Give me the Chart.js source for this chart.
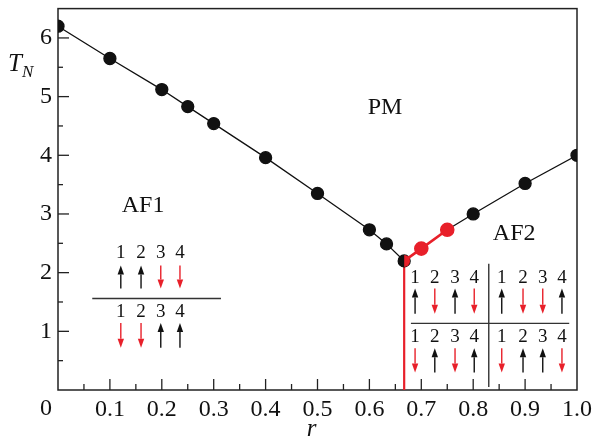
<!DOCTYPE html>
<html>
<head>
<meta charset="utf-8">
<script src="https://cdn.jsdelivr.net/npm/chart.js@4"></script>
<style>
  html, body { margin: 0; padding: 0; background: #fff; }
  canvas { display: block; }
</style>
</head>
<body>
<canvas id="phaseChart" width="593" height="441"></canvas>
<script>
// T_N(r) phase diagram
const rAF1 = [0, 0.1, 0.2, 0.25, 0.3, 0.4, 0.5, 0.6, 0.633, 0.667];
const tAF1 = [6.2, 5.65, 5.12, 4.83, 4.54, 3.96, 3.35, 2.73, 2.49, 2.2];
const rMid = [0.667, 0.7, 0.75];
const tMid = [2.2, 2.41, 2.73];
const rAF2 = [0.75, 0.8, 0.9, 1.0];
const tAF2 = [2.73, 3.0, 3.52, 4.0];
const rBoundary = [0.667, 0.667];
const tBoundary = [0, 2.2];

// spin configurations (1 = up, -1 = down)
const af1Top = [1, 1, -1, -1];
const af1Bottom = [-1, -1, 1, 1];
const af2TopLeft = [1, -1, 1, -1];
const af2TopRight = [1, -1, -1, 1];
const af2BottomLeft = [-1, 1, -1, 1];
const af2BottomRight = [-1, 1, 1, -1];

const RED = '#e8202a';
const BLACK = '#111';
const SERIF = '"Liberation Serif"';

const toPts = (xs, ys) => xs.map((x, i) => ({ x: x, y: ys[i] }));

// half black / half red marker for the triple point
function halfDot(r) {
  const c = document.createElement('canvas');
  c.width = c.height = 2 * r;
  const g = c.getContext('2d');
  g.fillStyle = BLACK;
  g.beginPath(); g.arc(r, r, r, Math.PI / 2, Math.PI * 1.5); g.fill();
  g.fillStyle = RED;
  g.beginPath(); g.arc(r, r, r, -Math.PI / 2, Math.PI / 2); g.fill();
  return c;
}
const tripleDot = halfDot(6);

function arrow(ctx, x, y1, y2, dir, color) {
  // y1 top, y2 bottom (pixels)
  const tip = dir > 0 ? y1 : y2;
  const tail = dir > 0 ? y2 : y1;
  const hl = 9, hw = 3.2;
  const base = tip + (dir > 0 ? hl : -hl);
  ctx.strokeStyle = color;
  ctx.fillStyle = color;
  ctx.lineWidth = 1.4;
  ctx.beginPath(); ctx.moveTo(x, tail); ctx.lineTo(x, base); ctx.stroke();
  ctx.beginPath();
  ctx.moveTo(x, tip);
  ctx.lineTo(x - hw, base);
  ctx.lineTo(x + hw, base);
  ctx.closePath();
  ctx.fill();
}

function spinRow(ctx, px, py, cols, yNum, yA, yB, spins) {
  ctx.font = '19px ' + SERIF;
  ctx.textAlign = 'center';
  ctx.textBaseline = 'middle';
  cols.forEach((c, i) => {
    ctx.fillStyle = BLACK;
    ctx.fillText(String(i + 1), px(c), py(yNum));
    arrow(ctx, px(c), py(yA), py(yB), spins[i], spins[i] > 0 ? BLACK : RED);
  });
}

const decorPlugin = {
  id: 'decor',
  beforeDatasetsDraw(chart) {
    const { ctx, chartArea: a, scales: { x, y } } = chart;
    ctx.save();
    ctx.strokeStyle = '#222';
    ctx.lineWidth = 1.5;
    ctx.strokeRect(a.left, a.top, a.right - a.left, a.bottom - a.top);
    // inward ticks
    ctx.lineWidth = 1.3;
    for (let i = 1; i < 20; i++) {
      const v = i * 0.05, X = x.getPixelForValue(v);
      const len = i % 2 === 0 ? 11 : 6;
      ctx.beginPath(); ctx.moveTo(X, a.bottom); ctx.lineTo(X, a.bottom - len); ctx.stroke();
    }
    for (let i = 1; i < 13; i++) {
      const v = i * 0.5, Y = y.getPixelForValue(v);
      const len = i % 2 === 0 ? 11 : 5;
      ctx.beginPath(); ctx.moveTo(a.left, Y); ctx.lineTo(a.left + len, Y); ctx.stroke();
    }
    ctx.restore();
  },
  afterDraw(chart) {
    const { ctx, chartArea: a, scales: { x, y } } = chart;
    const px = v => x.getPixelForValue(v);
    const py = v => y.getPixelForValue(v);
    ctx.save();
    ctx.fillStyle = BLACK;
    ctx.textBaseline = 'middle';
    ctx.textAlign = 'center';
    ctx.font = '24px ' + SERIF;
    ctx.fillText('0', a.left - 12, a.bottom + 19);
    ctx.fillText('PM', px(0.63), py(4.81));
    ctx.fillText('AF1', px(0.164), py(3.14));
    ctx.fillText('AF2', px(0.879), py(2.66));

    // axis titles
    ctx.font = 'italic 25px ' + SERIF;
    ctx.textAlign = 'left';
    ctx.fillText('T', 8, 64);
    ctx.font = 'italic 17px ' + SERIF;
    ctx.fillText('N', 22, 73);
    ctx.font = 'italic 25px ' + SERIF;
    ctx.textAlign = 'center';
    ctx.fillText('r', (a.left + a.right) / 2 - 6, 429);

    // AF1 configurations
    const c1 = [0.121, 0.160, 0.198, 0.235];
    spinRow(ctx, px, py, c1, 2.335, 2.12, 1.73, af1Top);
    spinRow(ctx, px, py, c1, 1.33, 1.14, 0.72, af1Bottom);
    ctx.strokeStyle = '#333';
    ctx.lineWidth = 1.4;
    ctx.beginPath(); ctx.moveTo(px(0.066), py(1.56)); ctx.lineTo(px(0.314), py(1.56)); ctx.stroke();

    // AF2 configurations
    const cl = [0.688, 0.726, 0.765, 0.802];
    const cr = [0.855, 0.896, 0.934, 0.971];
    spinRow(ctx, px, py, cl, 1.90, 1.73, 1.30, af2TopLeft);
    spinRow(ctx, px, py, cr, 1.90, 1.73, 1.30, af2TopRight);
    spinRow(ctx, px, py, cl, 0.90, 0.71, 0.30, af2BottomLeft);
    spinRow(ctx, px, py, cr, 0.90, 0.71, 0.30, af2BottomRight);
    ctx.strokeStyle = '#333';
    ctx.lineWidth = 1.4;
    ctx.beginPath(); ctx.moveTo(px(0.680), py(1.136)); ctx.lineTo(px(0.985), py(1.136)); ctx.stroke();
    ctx.beginPath(); ctx.moveTo(px(0.830), py(2.15)); ctx.lineTo(px(0.830), py(0.05)); ctx.stroke();
    ctx.restore();
  }
};

new Chart(document.getElementById('phaseChart'), {
  type: 'scatter',
  data: {
    datasets: [
      {
        data: toPts(rMid, tMid),
        showLine: true,
        borderColor: RED,
        backgroundColor: RED,
        borderWidth: 2.6,
        pointRadius: 6,
        pointStyle: rMid.map((r, i) => i === 0 ? tripleDot : 'circle')
      },
      {
        data: toPts(rAF1, tAF1),
        showLine: true,
        borderColor: BLACK,
        backgroundColor: BLACK,
        borderWidth: 1.3,
        pointRadius: 6
      },
      {
        data: toPts(rAF2, tAF2),
        showLine: true,
        clip: 0,
        borderColor: BLACK,
        backgroundColor: BLACK,
        borderWidth: 1.3,
        pointRadius: rAF2.map((r, i) => i === 0 ? 0 : 6)
      },
      {
        data: toPts(rBoundary, tBoundary),
        showLine: true,
        borderColor: RED,
        borderWidth: 2.2,
        pointRadius: 0
      }
    ]
  },
  options: {
    responsive: false,
    animation: false,
    layout: { padding: { top: 8, right: 16, left: 0, bottom: 0 } },
    plugins: { legend: { display: false }, tooltip: { enabled: false } },
    scales: {
      x: {
        type: 'linear',
        min: 0,
        max: 1,
        grid: { display: false, drawTicks: false },
        border: { display: false },
        afterFit: s => { s.height = 51; s.paddingLeft = 0; s.paddingRight = 0; },
        ticks: {
          stepSize: 0.1,
          padding: 5,
          color: BLACK,
          font: { family: SERIF, size: 24 },
          callback: v => v === 0 ? '' : (v === 1 ? '1.0' : v.toFixed(1))
        }
      },
      y: {
        type: 'linear',
        min: 0,
        max: 6.5,
        grid: { display: false, drawTicks: false },
        border: { display: false },
        afterFit: s => { s.width = 58; s.paddingTop = 0; s.paddingBottom = 0; },
        ticks: {
          stepSize: 1,
          padding: 6,
          color: BLACK,
          font: { family: SERIF, size: 24 },
          callback: v => (Number.isInteger(v) && v > 0) ? String(v) : ''
        }
      }
    }
  },
  plugins: [decorPlugin]
});
</script>
</body>
</html>
